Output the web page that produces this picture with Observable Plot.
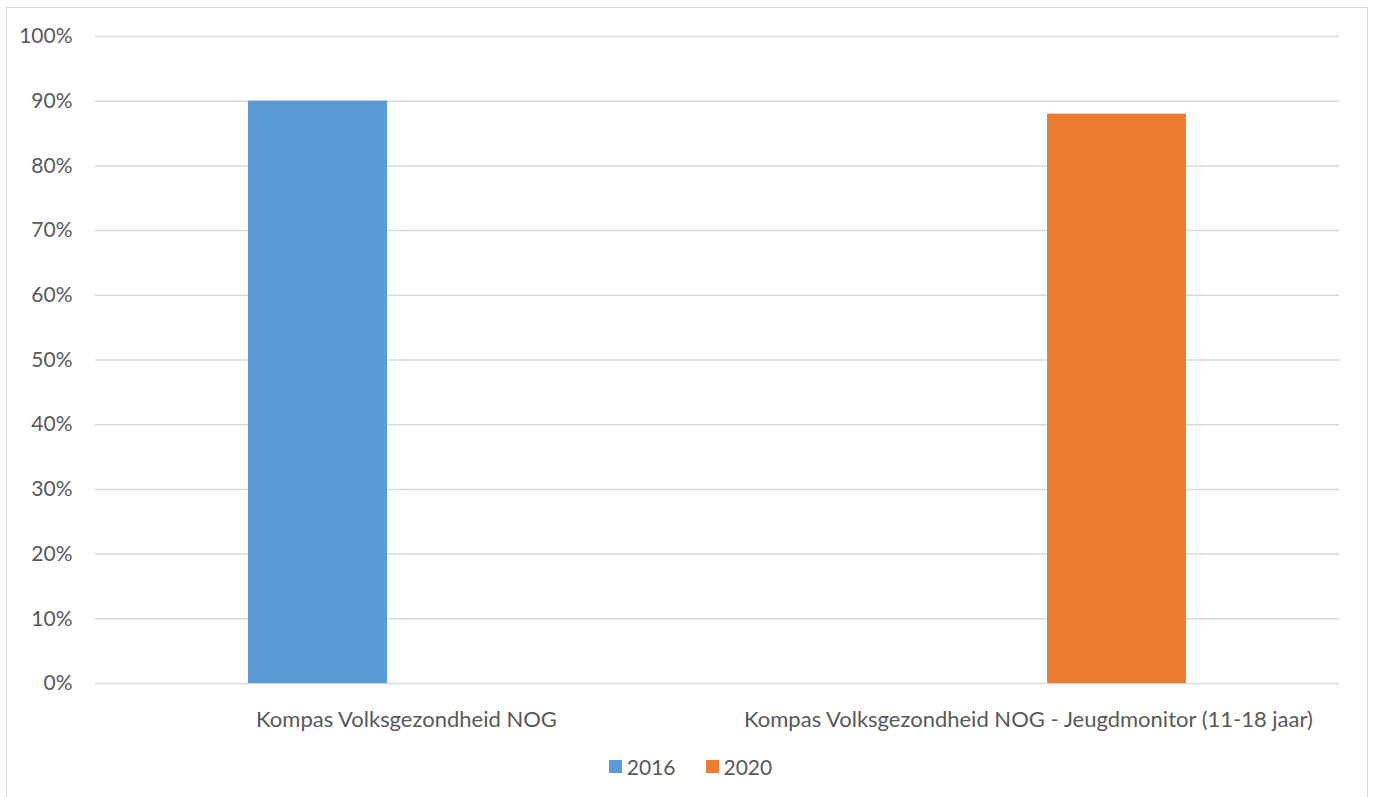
<!DOCTYPE html>
<html>
<head>
<meta charset="utf-8">
<script src="https://cdn.jsdelivr.net/npm/d3@7"></script>
<script src="https://cdn.jsdelivr.net/npm/@observablehq/plot@0.6"></script>
<style>
  html, body { margin: 0; padding: 0; background: #fff; overflow: hidden; }
  body { width: 1373px; height: 797px; position: relative; font-family: Lato, "Noto Sans", sans-serif; color: #595959; }
  #frame { position: absolute; left: 6px; top: 7px; width: 1362px; height: 820px; border: 1.5px solid #d9d9d9; box-sizing: border-box; }
  #chart { position: absolute; left: 0; top: 0; }
  #legend { position: absolute; left: 0; width: 1373px; top: 754px; display: flex; justify-content: center; gap: 30px; font-size: 21px; padding-left: 8px; box-sizing: border-box; }
  .item { display: flex; align-items: center; gap: 5px; }
  .sw { width: 13px; height: 13px; display: inline-block; }
</style>
</head>
<body>
<div id="frame"></div>
<div id="chart"></div>
<div id="legend"></div>
<script>
const categories = ["Kompas Volksgezondheid NOG", "Kompas Volksgezondheid NOG - Jeugdmonitor (11-18 jaar)"];
const series = ["2016", "2020"];
const values2016 = [0.90, null];
const values2020 = [null, 0.88];
const seriesColors = ["#5B9BD5", "#ED7D31"];
const yTicks = [0, 0.1, 0.2, 0.3, 0.4, 0.5, 0.6, 0.7, 0.8, 0.9, 1.0];

const seriesValues = [values2016, values2020];
const data = [];
categories.forEach((c, i) => {
  series.forEach((s, j) => {
    const v = seriesValues[j][i];
    if (v != null) data.push({category: c, series: s, value: v});
  });
});

const chart = Plot.plot({
  width: 1373,
  height: 745,
  marginLeft: 95,
  marginRight: 34,
  marginTop: 36,
  marginBottom: 62,
  style: {fontFamily: "Lato, 'Noto Sans', sans-serif", fontSize: "21px", color: "#595959", background: "transparent"},
  fx: {domain: categories, padding: 0, label: null},
  x: {domain: series, paddingInner: 0.2135, paddingOuter: 0.854, axis: null},
  y: {domain: [0, 1], label: null},
  color: {domain: series, range: seriesColors},
  marks: [
    Plot.gridY(yTicks, {stroke: "#d9d9d9", strokeOpacity: 1, strokeWidth: 1.5}),
    Plot.barY(data, {fx: "category", x: "series", y: "value", fill: "series"}),
    Plot.axisY(yTicks, {tickFormat: d3.format(".0%"), tickSize: 0, tickPadding: 23, label: null, fill: "#595959", fontSize: 21}),
    Plot.axisFx({anchor: "bottom", tickSize: 0, tickPadding: 28, label: null, fill: "#595959", fontSize: 22})
  ]
});
document.getElementById("chart").appendChild(chart);

const legend = document.getElementById("legend");
series.forEach((s, i) => {
  const item = document.createElement("div");
  item.className = "item";
  const sw = document.createElement("span");
  sw.className = "sw";
  sw.style.background = seriesColors[i];
  const t = document.createElement("span");
  t.textContent = s;
  item.appendChild(sw);
  item.appendChild(t);
  legend.appendChild(item);
});
</script>
</body>
</html>
